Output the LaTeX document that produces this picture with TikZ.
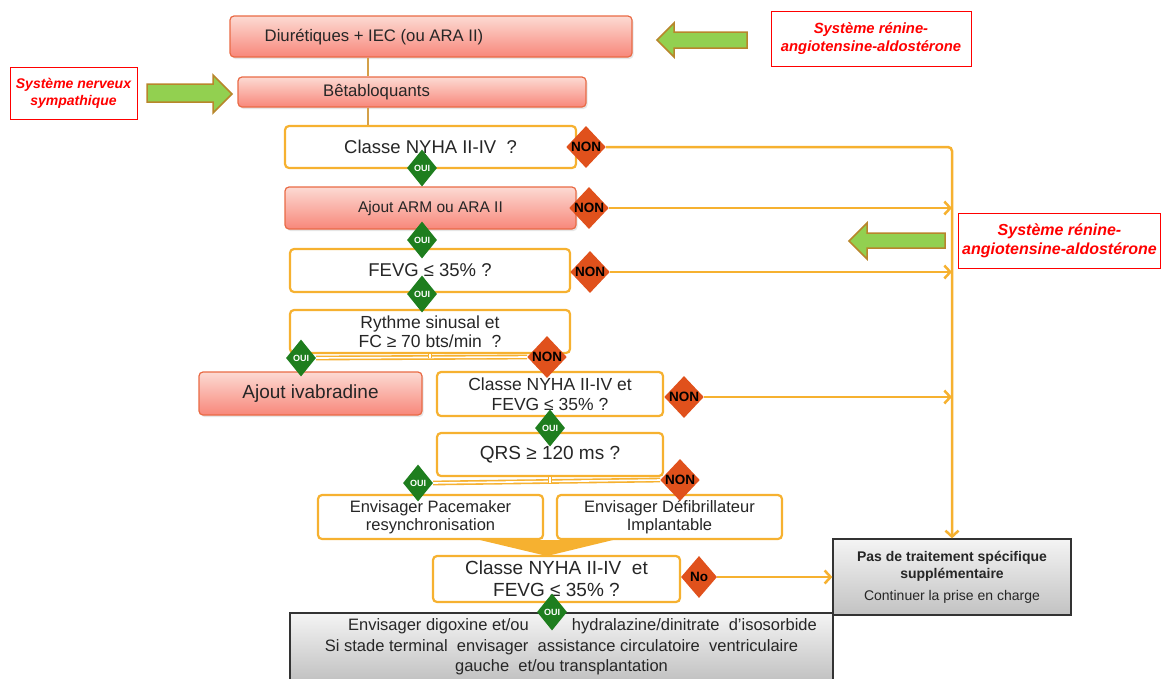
\documentclass[tikz,border=0pt]{standalone}
\usepackage{fontspec}
\setmainfont{Liberation Sans}
\usetikzlibrary{shapes.geometric,arrows.meta,shadows}

\definecolor{pinktop}{HTML}{FCDAD3}
\definecolor{pinkbot}{HTML}{F8877A}
\definecolor{pinkline}{HTML}{E96A45}
\definecolor{orangeline}{HTML}{F6B130}
\definecolor{ouigreen}{HTML}{1E7E1E}
\definecolor{nonorange}{HTML}{E0511C}
\definecolor{arrowgreen}{HTML}{92D050}
\definecolor{arrowbrown}{HTML}{B8862B}
\definecolor{greytop}{HTML}{F4F4F4}
\definecolor{greybot}{HTML}{C2C2C2}
\definecolor{spinecol}{HTML}{D4A048}
\definecolor{textgrey}{HTML}{262626}

\newcommand{\fsz}[2]{\fontsize{#1}{#2}\selectfont}

\tikzset{
  drugbox/.style={rectangle, rounded corners=4pt, draw=pinkline, line width=1.2pt,
    top color=pinktop, bottom color=pinkbot, text=textgrey, align=center,
    drop shadow={opacity=0.2, shadow xshift=1.5pt, shadow yshift=-2pt}},
  askbox/.style={rectangle, rounded corners=4pt, draw=orangeline, line width=2.2pt,
    fill=white, text=textgrey, align=center},
  endbox/.style={rectangle, draw=black!80, line width=1.3pt,
    top color=greytop, bottom color=greybot, text=textgrey, align=center},
  sysbox/.style={rectangle, draw=red, line width=1pt, text=red, align=center,
    font=\bfseries\itshape\fsz{14}{17}},
  oui/.style={diamond, fill=ouigreen, text=white, inner sep=0pt,
    minimum width=30pt, minimum height=37pt, font=\bfseries\fsz{9}{9}},
  non/.style={diamond, fill=nonorange, text=black, inner sep=0pt,
    minimum width=36pt, minimum height=42pt, font=\bfseries\fsz{13.5}{13.5}},
  nonline/.style={draw=orangeline, line width=2.5pt,
    -{Straight Barb[length=6pt,width=13pt,line width=2.5pt]}},
  branchline/.style={draw=orangeline, line width=1.6pt, double=white, double distance=1.6pt},
  spineline/.style={draw=spinecol, line width=2pt},
  greenarrow/.style={draw=arrowbrown, line width=1.5pt, fill=arrowgreen, line join=miter}
}

\begin{document}
\begin{tikzpicture}[x=1pt, y=-1pt]
  \useasboundingbox (0,0) rectangle (1161,678);

  % Boxes
  \node[drugbox, minimum width=402pt, minimum height=41pt] (diur) at (431,36.5) {};
  \node[text=textgrey, font=\fsz{16.7}{20}] (diurtext) at (374,37) {Diurétiques + IEC (ou ARA II)};
  \node[sysbox, minimum width=200pt, minimum height=55pt, font=\bfseries\itshape\fsz{14.8}{18}] (raasa) at (871,38.5) {Système rénine-\\angiotensine-aldostérone};
  \node[sysbox, minimum width=127pt, minimum height=52pt] (sns) at (73.5,93) {Système nerveux\\sympathique};
  \node[drugbox, minimum width=348pt, minimum height=30pt] (beta) at (412,92) {};
  \node[text=textgrey, font=\fsz{16.7}{20}] (betatext) at (376.5,92) {Bêtabloquants};
  \node[askbox, minimum width=291pt, minimum height=42pt, font=\fsz{18.5}{22}] (nyhaa) at (430.5,147) {Classe NYHA II-IV \ ?};
  \node[drugbox, minimum width=291pt, minimum height=42pt, font=\fsz{15.5}{18}] (arm) at (430.5,208) {Ajout ARM ou ARA II};
  \node[askbox, minimum width=280pt, minimum height=43pt, font=\fsz{18.5}{22}] (fevg) at (430,270.5) {FEVG ≤ 35\% ?};
  \node[askbox, minimum width=280pt, minimum height=43pt, font=\fsz{17.5}{19.5}] (rythme) at (430,331.5) {Rythme sinusal et\\FC ≥ 70 bts/min \ ?};
  \node[drugbox, minimum width=223pt, minimum height=43pt, font=\fsz{19}{22}] (ivab) at (310.5,393.5) {Ajout ivabradine};
  \node[askbox, minimum width=226pt, minimum height=44pt, font=\fsz{17.5}{19.5}] (nyhab) at (550,394) {Classe NYHA II-IV et\\FEVG ≤ 35\% ?};
  \node[askbox, minimum width=226pt, minimum height=43pt, font=\fsz{19}{22}] (qrs) at (550,454.5) {QRS ≥ 120 ms ?};
  \node[askbox, minimum width=225pt, minimum height=44pt, font=\fsz{16.5}{18}] (pace) at (430.5,517) {Envisager Pacemaker\\resynchronisation};
  \node[askbox, minimum width=225pt, minimum height=44pt, font=\fsz{16.5}{18}] (defib) at (669.5,517) {Envisager Défibrillateur\\Implantable};
  \node[askbox, minimum width=247pt, minimum height=46pt, font=\fsz{19}{22}] (nyhac) at (556.5,579) {Classe NYHA II-IV \ et\\FEVG ≤ 35\% ?};
  \node[endbox, minimum width=543pt, minimum height=67pt, font=\fsz{16.5}{19.5}] (digox) at (561.5,646.5) {\hspace*{42pt}Envisager digoxine et/ou \hspace{34pt} hydralazine/dinitrate \ d'isosorbide\\[2pt]Si stade terminal \ envisager \ assistance circulatoire \ ventriculaire\\gauche \ et/ou transplantation};
  \node[endbox, minimum width=238pt, minimum height=76pt, font=\fsz{14}{17}] (pas) at (952,577) {\textbf{Pas de traitement spécifique}\\\textbf{supplémentaire}\\[5pt]Continuer la prise en charge};
  \node[sysbox, minimum width=197pt, minimum height=55pt, font=\bfseries\itshape\fsz{16}{19}] (raasb) at (1059.5,240.5) {Système rénine-\\angiotensine-aldostérone};

  % Green block arrows
  \draw[greenarrow] (747,32) -- (674,32) -- (674,23) -- (657,40) -- (674,57) -- (674,48) -- (747,48) -- cycle;
  \draw[greenarrow] (147,84) -- (213,84) -- (213,75) -- (232,94) -- (213,113) -- (213,102) -- (147,102) -- cycle;
  \draw[greenarrow] (945,233) -- (867,233) -- (867,223) -- (849,241) -- (867,259) -- (867,248) -- (945,248) -- cycle;

  % Spine between the first boxes
  \coordinate (spine) at (368,0);
  \draw[spineline] (spine |- diur.south) -- (spine |- beta.north);
  \draw[spineline] (spine |- beta.south) -- (spine |- nyhaa.north);

  % Funnel
  \fill[orangeline] (480,540) -- (613,540) -- (547,556) -- cycle;

  % Decisions
  \node[oui] (ouia) at (422,168) {OUI};
  \node[non] (nona) at (586,147) {NON};
  \node[oui] (ouib) at (422,240) {OUI};
  \node[non] (nonb) at (589,208) {NON};
  \node[oui] (ouic) at (422,294) {OUI};
  \node[non] (nonc) at (590,272) {NON};
  \node[oui] (ouid) at (301,358) {OUI};
  \node[non] (nond) at (547,357) {NON};
  \node[oui] (ouie) at (550,428) {OUI};
  \node[non] (none) at (684,397) {NON};
  \node[oui] (ouif) at (418,483) {OUI};
  \node[non] (nonf) at (680,480) {NON};
  \node[oui] (ouig) at (552,612) {OUI};
  \node[non] (nog) at (699,577) {No};

  % Branches
  \draw[branchline] (ouid.east) -- (nond.west);
  \draw[branchline] (rythme.south) -- (rythme.south |- ouid);
  \draw[branchline] (ouif.east) -- (nonf.west);
  \draw[branchline] (qrs.south) -- (qrs.south |- ouif);

  % NON arrows
  \draw[nonline, rounded corners=4pt] (nona.east) -- (nona -| pas.north) -- (pas.north);
  \draw[nonline] (nonb.east) -- (nonb -| pas.north);
  \draw[nonline] (nonc.east) -- (nonc -| pas.north);
  \draw[nonline] (none.east) -- (none -| pas.north);
  \draw[nonline] (nog.east) -- (pas.west);
\end{tikzpicture}
\end{document}
